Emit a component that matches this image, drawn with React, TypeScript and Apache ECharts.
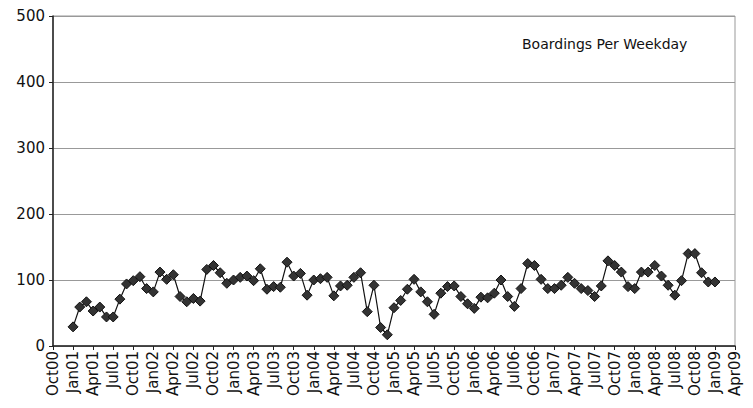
import React, { useEffect, useRef } from "react";
import * as echarts from "echarts";

const monthNames = ["Jan", "Feb", "Mar", "Apr", "May", "Jun", "Jul", "Aug", "Sep", "Oct", "Nov", "Dec"];
// Monthly categories Oct00 .. Apr09
const categories: string[] = [];
for (let y = 2000; y <= 2009; y++) {
  for (let m = 0; m < 12; m++) {
    if (y === 2000 && m < 9) continue;
    if (y === 2009 && m > 3) continue;
    categories.push(monthNames[m] + String(y % 100).padStart(2, "0"));
  }
}

// Boardings per weekday, Jan01 .. Jan09 (monthly)
const boardings = [
  29, 59, 67, 53, 59, 44, 44, 71, 94, 99, 105, 87,
  82, 112, 101, 108, 75, 67, 72, 68, 116, 122, 111, 95,
  100, 104, 106, 99, 117, 86, 90, 89, 127, 106, 110, 77,
  100, 102, 104, 76, 91, 92, 104, 111, 52, 92, 28, 17,
  58, 69, 86, 101, 82, 67, 48, 80, 90, 91, 75, 64,
  57, 74, 73, 80, 100, 75, 60, 87, 125, 122, 101, 87,
  87, 92, 104, 95, 87, 84, 75, 91, 129, 122, 112, 90,
  87, 112, 112, 122, 106, 92, 77, 99, 140, 140, 111, 97,
  97,
];
const startIndex = 3; // Jan01

const seriesData: (number | null)[] = categories.map((_, i) => {
  const k = i - startIndex;
  return k >= 0 && k < boardings.length ? boardings[k] : null;
});

const yTicks = [0, 100, 200, 300, 400, 500];
const FONT = "DejaVu Sans, Liberation Sans, Arial, sans-serif";

export default function App() {
  const ref = useRef<HTMLDivElement>(null);
  useEffect(() => {
    if (!ref.current) return;
    const chart = echarts.init(ref.current, undefined, { renderer: "svg" });
    chart.setOption({
      animation: false,
      backgroundColor: "#ffffff",
      textStyle: { fontFamily: FONT },
      grid: { left: 45, right: 10, top: 8, bottom: 54, show: true, borderColor: "#999", borderWidth: 1 },
      xAxis: {
        type: "category",
        data: categories,
        boundaryGap: false,
        axisLine: { lineStyle: { color: "#222", width: 1.5 } },
        axisTick: { interval: (i: number) => i % 3 === 0, length: 4, lineStyle: { color: "#222" } },
        axisLabel: {
          interval: (i: number) => i % 3 === 0,
          rotate: 90,
          color: "#111",
          fontSize: 15,
          fontFamily: FONT,
          margin: 5,
        },
        splitLine: { show: false },
      },
      yAxis: {
        type: "value",
        min: yTicks[0],
        max: yTicks[yTicks.length - 1],
        interval: 100,
        axisLine: { show: true, lineStyle: { color: "#222", width: 1.5 } },
        axisTick: { show: true, length: 4, lineStyle: { color: "#222" } },
        axisLabel: { color: "#111", fontSize: 15, fontFamily: FONT, margin: 8 },
        splitLine: { lineStyle: { color: "#999", width: 1 } },
      },
      graphic: [
        {
          type: "text",
          left: 514,
          top: 29,
          style: { text: "Boardings Per Weekday", fontSize: 14, fill: "#111", fontFamily: FONT },
        },
      ],
      series: [
        {
          type: "line",
          data: seriesData,
          connectNulls: false,
          showAllSymbol: true,
          symbol: "diamond",
          symbolSize: 10,
          itemStyle: { color: "#333", borderColor: "#111", borderWidth: 1 },
          lineStyle: { color: "#111", width: 1.2 },
        },
      ],
    });
    return () => chart.dispose();
  }, []);
  return <div ref={ref} style={{ width: 737, height: 392 }} />;
}
